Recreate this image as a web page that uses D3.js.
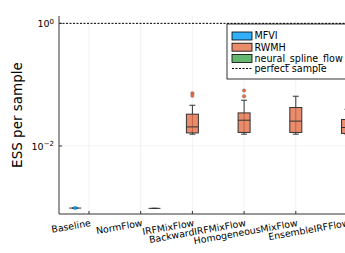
<!DOCTYPE html>
<html lang="en">

<head>
    <meta charset="UTF-8">
    <script src="https://cdnjs.cloudflare.com/ajax/libs/d3/7.8.5/d3.min.js" type="text/JavaScript"></script>
    <title>ESS per sample</title>
    <style>
        body { margin: 0; background: #fff; }
        svg { display: block; overflow: hidden; }
        text { font-family: "DejaVu Sans", sans-serif; fill: #000; }
    </style>
</head>

<body>
    <svg width="345" height="253"></svg>
    <script>
        // categories on the x axis, methods as dodged groups
        var categories = ["Baseline", "NormFlow", "IRFMixFlow", "BackwardIRFMixFlow", "HomogeneousMixFlow", "EnsembleIRFFlow"];
        var groups = ["MFVI", "RWMH", "neural_spline_flow"];
        var groupColors = ["#009AFA", "#E36F47", "#3EA44E"];

        // [category, group, lower whisker, q1, median, q3, upper whisker]
        var boxStats = [
            ["Baseline", "MFVI", 0.00097, 0.00097, 0.00097, 0.00097, 0.00097],
            ["NormFlow", "neural_spline_flow", 0.00096, 0.00096, 0.00096, 0.00096, 0.00096],
            ["IRFMixFlow", "RWMH", 0.01556, 0.01633, 0.02046, 0.0330, 0.0461],
            ["BackwardIRFMixFlow", "RWMH", 0.01556, 0.0166, 0.0263, 0.0346, 0.0557],
            ["HomogeneousMixFlow", "RWMH", 0.01556, 0.0166, 0.0254, 0.0424, 0.0647],
            ["EnsembleIRFFlow", "RWMH", 0.01556, 0.0160, 0.0200, 0.0270, 0.0397]
        ];

        // [category, group, value]
        var outliers = [
            ["Baseline", "MFVI", 0.00097],
            ["IRFMixFlow", "RWMH", 0.0724],
            ["IRFMixFlow", "RWMH", 0.0659],
            ["BackwardIRFMixFlow", "RWMH", 0.0802],
            ["BackwardIRFMixFlow", "RWMH", 0.0647]
        ];

        var perfectSample = 1;
        var yTicks = [1, 0.01];

        var pLeft = 59, pRight = 377.5, pTop = 16, pBottom = 214;
        var svg = d3.select("svg");

        var x = d3.scalePoint()
            .domain(categories)
            .range([pLeft, pRight])
            .padding(0.58);

        var y = d3.scaleLog()
            .domain([Math.pow(10, -3.11), Math.pow(10, 0.12)])
            .range([pBottom, pTop]);

        var dodge = 13.8, boxW = 12;
        function cx(cat, grp) {
            return x(cat) + (groups.indexOf(grp) - 1) * dodge;
        }
        function col(grp) {
            return groupColors[groups.indexOf(grp)];
        }

        // grid
        svg.selectAll("line.vgrid")
            .data(categories)
            .enter()
            .append("line")
            .attr("class", "vgrid")
            .attr("x1", d => x(d)).attr("x2", d => x(d))
            .attr("y1", pTop).attr("y2", pBottom)
            .attr("stroke", "#000").attr("stroke-opacity", 0.1).attr("stroke-width", 0.5);

        svg.selectAll("line.hgrid")
            .data(yTicks)
            .enter()
            .append("line")
            .attr("class", "hgrid")
            .attr("x1", pLeft).attr("x2", pRight)
            .attr("y1", d => y(d)).attr("y2", d => y(d))
            .attr("stroke", "#000").attr("stroke-opacity", 0.1).attr("stroke-width", 0.5);

        // boxes
        var boxes = svg.selectAll("g.box")
            .data(boxStats)
            .enter()
            .append("g")
            .attr("class", "box");

        boxes.append("line")
            .attr("x1", d => cx(d[0], d[1])).attr("x2", d => cx(d[0], d[1]))
            .attr("y1", d => y(d[2])).attr("y2", d => y(d[6]))
            .attr("stroke", "#333").attr("stroke-width", 1);
        boxes.append("line")
            .attr("x1", d => cx(d[0], d[1]) - boxW / 4).attr("x2", d => cx(d[0], d[1]) + boxW / 4)
            .attr("y1", d => y(d[6])).attr("y2", d => y(d[6]))
            .attr("stroke", "#333").attr("stroke-width", 1);
        boxes.append("line")
            .attr("x1", d => cx(d[0], d[1]) - boxW / 4).attr("x2", d => cx(d[0], d[1]) + boxW / 4)
            .attr("y1", d => y(d[2])).attr("y2", d => y(d[2]))
            .attr("stroke", "#333").attr("stroke-width", 1);
        boxes.append("rect")
            .attr("x", d => cx(d[0], d[1]) - boxW / 2)
            .attr("width", boxW)
            .attr("y", d => y(d[5]))
            .attr("height", d => Math.max(0, y(d[3]) - y(d[5])))
            .attr("fill", d => col(d[1]))
            .attr("fill-opacity", 0.8)
            .attr("stroke", "#333").attr("stroke-width", 1);
        boxes.append("line")
            .attr("x1", d => cx(d[0], d[1]) - boxW / 2).attr("x2", d => cx(d[0], d[1]) + boxW / 2)
            .attr("y1", d => y(d[4])).attr("y2", d => y(d[4]))
            .attr("stroke", "#333").attr("stroke-width", 1);

        svg.selectAll("circle.outlier")
            .data(outliers)
            .enter()
            .append("circle")
            .attr("class", "outlier")
            .attr("cx", d => cx(d[0], d[1]))
            .attr("cy", d => y(d[2]))
            .attr("r", 1.8)
            .attr("fill", d => col(d[1]))
            .attr("stroke", "#555").attr("stroke-width", 0.3);

        // perfect sample line
        svg.append("line")
            .attr("x1", pLeft).attr("x2", pRight)
            .attr("y1", y(perfectSample)).attr("y2", y(perfectSample))
            .attr("stroke", "#000").attr("stroke-width", 1)
            .attr("stroke-dasharray", "2,1.5");

        // axes
        svg.append("line")
            .attr("x1", pLeft).attr("x2", pLeft).attr("y1", pTop).attr("y2", pBottom)
            .attr("stroke", "#333").attr("stroke-width", 1);
        svg.append("line")
            .attr("x1", pLeft).attr("x2", pRight).attr("y1", pBottom).attr("y2", pBottom)
            .attr("stroke", "#333").attr("stroke-width", 1);

        svg.selectAll("line.xtick")
            .data(categories)
            .enter()
            .append("line")
            .attr("x1", d => x(d)).attr("x2", d => x(d))
            .attr("y1", pBottom).attr("y2", pBottom - 3)
            .attr("stroke", "#333");
        svg.selectAll("line.ytick")
            .data(yTicks)
            .enter()
            .append("line")
            .attr("x1", pLeft).attr("x2", pLeft + 3)
            .attr("y1", d => y(d)).attr("y2", d => y(d))
            .attr("stroke", "#333");

        svg.selectAll("text.xlab")
            .data(categories)
            .enter()
            .append("text")
            .attr("class", "xlab")
            .attr("transform", d => "translate(" + (x(d) + 1) + "," + (pBottom + 5) + ") rotate(-10)")
            .attr("text-anchor", "end")
            .attr("dy", "0.75em")
            .style("font-size", "9.4px")
            .text(d => d);

        var ylab = svg.selectAll("text.ylab")
            .data(yTicks)
            .enter()
            .append("text")
            .attr("class", "ylab")
            .attr("x", pLeft - 5)
            .attr("y", d => y(d) + 4)
            .attr("text-anchor", "end")
            .style("font-size", "9.5px");
        ylab.append("tspan").text("10");
        ylab.append("tspan")
            .attr("dy", "-0.5em")
            .style("font-size", "7px")
            .text(d => Math.round(Math.log10(d)) === 0 ? "0" : "\u2212" + Math.abs(Math.round(Math.log10(d))));

        svg.append("text")
            .attr("transform", "translate(22," + ((pTop + pBottom) / 2) + ") rotate(-90)")
            .attr("text-anchor", "middle")
            .style("font-size", "13.5px")
            .text("ESS per sample");

        // legend
        var lg = svg.append("g").attr("transform", "translate(227,24)");
        lg.append("rect")
            .attr("width", 140).attr("height", 55)
            .attr("fill", "#fff").attr("stroke", "#000").attr("stroke-width", 0.8);
        groups.forEach((g, i) => {
            lg.append("rect")
                .attr("x", 5).attr("y", 8 + i * 11.2)
                .attr("width", 20).attr("height", 8)
                .attr("fill", groupColors[i]).attr("fill-opacity", 0.8)
                .attr("stroke", "#000").attr("stroke-width", 0.8);
            lg.append("text")
                .attr("x", 27.5).attr("y", 12 + i * 11.2)
                .attr("dy", "0.35em")
                .style("font-size", "9.6px")
                .text(g);
        });
        lg.append("line")
            .attr("x1", 5).attr("x2", 25).attr("y1", 44.5).attr("y2", 44.5)
            .attr("stroke", "#000").attr("stroke-dasharray", "2,1.5");
        lg.append("text")
            .attr("x", 27.5).attr("y", 44.5)
            .attr("dy", "0.35em")
            .style("font-size", "9.6px")
            .text("perfect sample");
    </script>
</body>

</html>
